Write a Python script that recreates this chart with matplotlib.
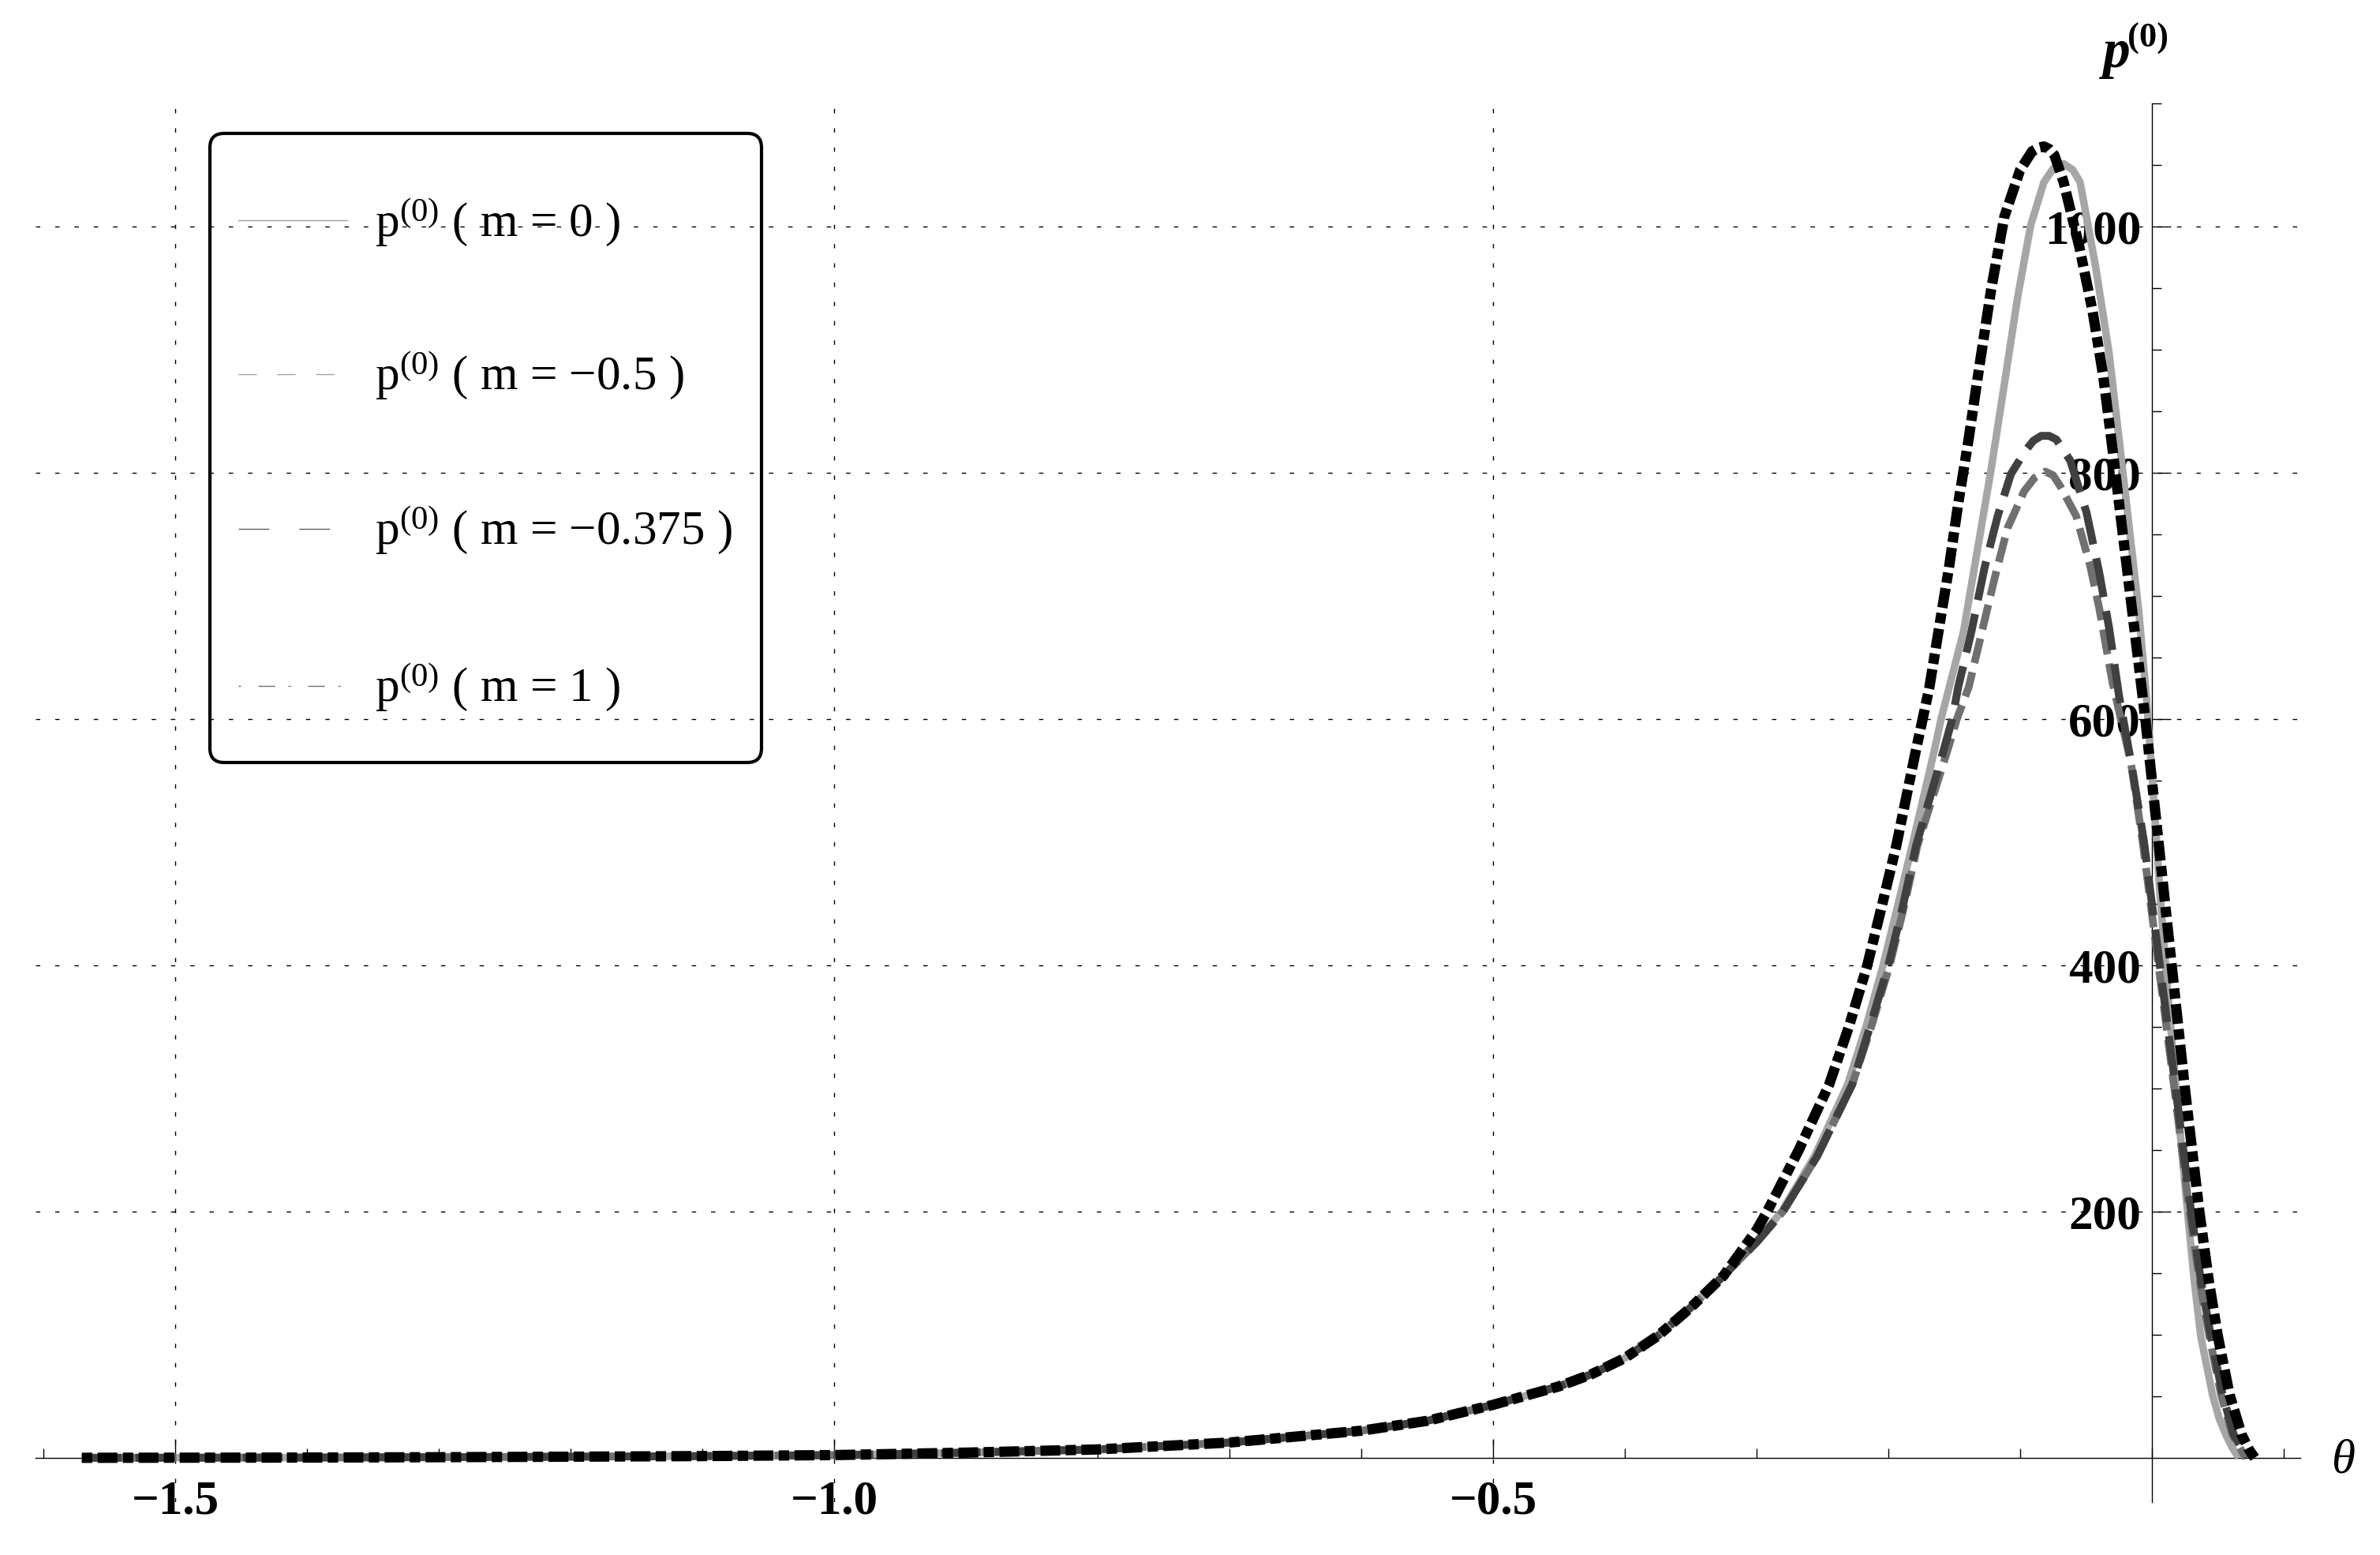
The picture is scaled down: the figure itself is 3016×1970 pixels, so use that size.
import matplotlib
matplotlib.use('Agg')
import matplotlib.pyplot as plt
from matplotlib.lines import Line2D
from matplotlib.patches import FancyBboxPatch
import numpy as np

# --- Style ---
plt.rcParams.update({
    'font.family': 'Liberation Serif',
    'mathtext.fontset': 'custom',
    'mathtext.rm': 'Liberation Serif',
    'mathtext.it': 'Liberation Serif:italic',
    'mathtext.bf': 'Liberation Serif:bold',
    'lines.scale_dashes': False,
    'axes.unicode_minus': True,
})

# --- Data ---
# common left tail, all four curves coincide here
theta_tail = [-1.5708, -1.4, -1.3, -1.2, -1.1, -1.0, -0.9, -0.8, -0.7, -0.6,
              -0.55, -0.5, -0.45, -0.425, -0.4, -0.375, -0.35, -0.325]
p_tail = [0.0, 0.2, 0.5, 0.9, 1.4, 2.2, 4.2, 6.8, 12.4, 22.0,
          30.0, 43.0, 58.0, 68.0, 81.0, 99.0, 122.0, 148.0]

# m = 0
theta_m0 = [-0.300, -0.281, -0.256, -0.231, -0.217, -0.204, -0.193, -0.182, -0.165, -0.160,
            -0.143, -0.132, -0.122, -0.112, -0.102, -0.092, -0.082, -0.075, -0.067,
            -0.060, -0.0545, -0.0425, -0.0325, -0.025, -0.0175, -0.010, -0.004, 0.002,
            0.006, 0.013, 0.020, 0.027, 0.032, 0.037, 0.046, 0.051, 0.056, 0.061, 0.066]
p_m0 = [176, 200, 245, 303, 350, 400, 448, 497, 575, 600,
        671, 740, 803, 872, 942, 1001, 1036, 1047, 1051,
        1046, 1036, 966, 897, 828, 758, 688, 615, 525,
        460, 365, 280, 200, 145, 99, 51, 32, 19, 8, 0]

# m = -0.5
theta_m05 = [-0.300, -0.280, -0.254, -0.2275, -0.213, -0.199, -0.188, -0.178, -0.155, -0.148,
             -0.139, -0.129, -0.119, -0.1096, -0.097, -0.089, -0.081, -0.075, -0.0695,
             -0.0575, -0.047, -0.040, -0.030, -0.016, -0.007, 0.005, 0.017, 0.0285,
             0.036, 0.0435, 0.0525, 0.061, 0.071]
p_m05 = [175, 200, 245, 303, 350, 400, 448, 497, 575, 600,
         626, 671, 716, 755, 785, 796, 801, 798, 789,
         765, 725, 690, 630, 565, 500, 400, 300, 200,
         145, 99, 51, 19, 0]

# m = -0.375
theta_m0375 = [-0.300, -0.280, -0.254, -0.2275, -0.214, -0.200, -0.189, -0.179, -0.158, -0.1515,
               -0.147, -0.137, -0.127, -0.117, -0.107, -0.096, -0.090, -0.084, -0.078,
               -0.0725, -0.062, -0.0497, -0.040, -0.0325, -0.025, -0.015, -0.006, 0.006,
               0.018, 0.0297, 0.037, 0.0447, 0.0537, 0.062, 0.072]
p_m0375 = [175, 200, 245, 303, 350, 400, 448, 497, 575, 600,
           626, 671, 723, 765, 799, 818, 826, 830, 830,
           827, 810, 768, 719, 674, 619, 560, 500, 400,
           300, 200, 145, 99, 51, 19, 0]

# m = 1
theta_m1 = [-0.300, -0.292, -0.268, -0.245, -0.230, -0.216, -0.205, -0.194, -0.180, -0.169,
            -0.162, -0.154, -0.147, -0.139, -0.132, -0.122, -0.112, -0.100, -0.091,
            -0.086, -0.082, -0.078, -0.074, -0.067, -0.055, -0.045, -0.037, -0.030,
            -0.023, -0.015, -0.005, 0.005, 0.015, 0.025, 0.036, 0.043, 0.050, 0.059,
            0.068, 0.074, 0.078]
p_m1 = [185, 200, 250, 303, 350, 400, 448, 497, 570, 625,
        671, 723, 775, 828, 879, 949, 1008, 1046, 1061,
        1064, 1065, 1063, 1058, 1036, 983, 931, 879, 820,
        758, 688, 600, 500, 400, 300, 200, 145, 99, 51,
        19, 6, 0]

labels = ['p$^{(0)}$ ( m = 0 )', 'p$^{(0)}$ ( m = \u22120.5 )',
          'p$^{(0)}$ ( m = \u22120.375 )', 'p$^{(0)}$ ( m = 1 )']

x_major = [-1.5, -1.0, -0.5]
x_major_labels = ['\u22121.5', '\u22121.0', '\u22120.5']
y_major = [200, 400, 600, 800, 1000]
y_major_labels = ['200', '400', '600', '800', '1000']

# --- Plot ---
fig = plt.figure(figsize=(15.08, 9.85), dpi=200)
ax = fig.add_axes([0.01492, 0.0340, 0.9516, 0.8995])
ax.set_xlim(-1.606, 0.1126)
ax.set_ylim(-36, 1100)

series = [
    (theta_m0, p_m0, dict(color='#a6a6a6', lw=3.4, ls='-', solid_capstyle='butt')),
    (theta_m05, p_m05, dict(color='#707070', lw=3.5, dashes=(11.5, 4.3))),
    (theta_m0375, p_m0375, dict(color='#404040', lw=3.6, dashes=(18, 6.5))),
    (theta_m1, p_m1, dict(color='black', lw=4.7, dashes=(4.7, 2.5, 9, 2.5))),
]
for th, pp, kw in series:
    ax.plot(theta_tail + th, p_tail + pp, zorder=3, **kw)

# axes through the origin
for s in ['top', 'right']:
    ax.spines[s].set_visible(False)
ax.spines['left'].set_position(('data', 0))
ax.spines['bottom'].set_position(('data', 0))
for s in ['left', 'bottom']:
    ax.spines[s].set_linewidth(0.5)

ax.set_xticks(x_major)
ax.set_xticklabels(x_major_labels, fontsize=22, fontweight='bold')
ax.set_xticks(np.arange(-1.6, 0.15, 0.1), minor=True)
ax.set_yticks(y_major)
ax.set_yticklabels(y_major_labels, fontsize=22, fontweight='bold')
ax.set_yticks(np.arange(50, 1101, 50), minor=True)
ax.tick_params(which='both', direction='in', width=0.5)
ax.tick_params(which='major', length=8.5)
ax.tick_params(which='minor', length=4.3)
ax.tick_params(axis='x', which='major', pad=10)
ax.tick_params(axis='y', which='major', pad=5)

ax.grid(True, which='major', color='black', linewidth=0.5, linestyle=(0, (2.0, 6.8)))
ax.set_axisbelow(True)

# axis labels
fig.text(0.8836, 0.9570, 'p', fontsize=25, fontweight='bold', style='italic')
fig.text(0.8940, 0.9700, '(0)', fontsize=16, fontweight='bold')
fig.text(0.9844, 0.0604, '\u03b8', fontsize=22, style='italic', ha='center', va='center')

# --- Legend (drawn by hand, Mathematica style) ---
box = FancyBboxPatch((1.33, 5.02), 3.495, 3.985,
                     boxstyle='round,pad=0,rounding_size=0.09',
                     transform=fig.dpi_scale_trans, facecolor='none',
                     edgecolor='black', linewidth=1.5)
fig.add_artist(box)

leg_styles = [
    dict(color='#a0a0a0', ls='-'),
    dict(color='#a0a0a0', dashes=(8.3, 9.4)),
    dict(color='#606060', dashes=(14, 13.7)),
    dict(color='#707070', dashes=(1.1, 7.9, 7.6, 6.1)),
]
row_line_y = [0.8584, 0.7594, 0.6599, 0.5589]
row_text_y = [0.8482, 0.7497, 0.6503, 0.5492]
for st, ly, ty, lab in zip(leg_styles, row_line_y, row_text_y, labels):
    fig.add_artist(Line2D([0.1001, 0.1459], [ly, ly], transform=fig.transFigure,
                          linewidth=0.5, **st))
    fig.text(0.1575, ty, lab, fontsize=22, va='baseline')

fig.savefig('out.png', dpi=200)
plt.close()
